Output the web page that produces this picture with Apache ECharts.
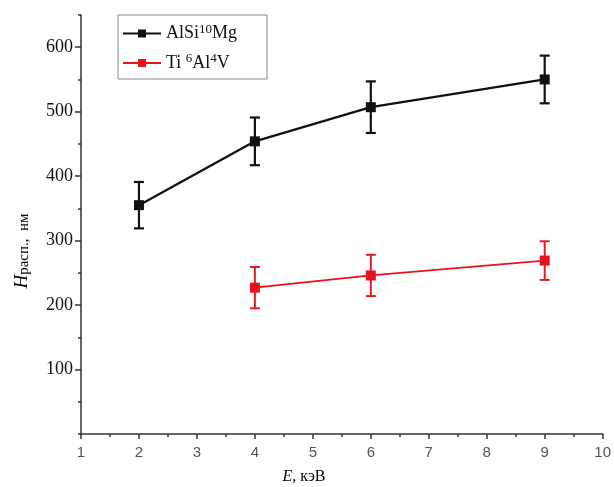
<!DOCTYPE html>
<html><head><meta charset="utf-8">
<script src="https://cdn.jsdelivr.net/npm/echarts@6/dist/echarts.min.js"></script>
<style>html,body{margin:0;padding:0;background:#fff}#c{width:614px;height:487px}</style>
</head><body><div id="c"></div>
<script>
const energyAl = [2, 4, 6, 9];
const hardAl = [355, 454, 507, 550];
const errAl = [36, 37, 40, 37];
const energyTi = [4, 6, 9];
const hardTi = [227, 246, 269];
const errTi = [32, 32, 30];
const yMajor = [100, 200, 300, 400, 500, 600];
const xTicks = [1, 2, 3, 4, 5, 6, 7, 8, 9, 10];

const BLACK = '#111111';
const RED = '#e8121c';
const serif = '"Liberation Serif", "DejaVu Serif", serif';

const chart = echarts.init(document.getElementById('c'));

function pts(xs, ys) { return xs.map((x, i) => [x, ys[i]]); }
function errData(xs, ys, es) { return xs.map((x, i) => [x, ys[i] - es[i], ys[i] + es[i]]); }

function errRender(color, lw) {
  return function (params, api) {
    const x = api.value(0);
    const lo = api.coord([x, api.value(1)]);
    const hi = api.coord([x, api.value(2)]);
    const w = 5;
    const st = { stroke: color, lineWidth: lw };
    return {
      type: 'group',
      children: [
        { type: 'line', shape: { x1: lo[0], y1: lo[1], x2: hi[0], y2: hi[1] }, style: st },
        { type: 'line', shape: { x1: lo[0] - w, y1: lo[1], x2: lo[0] + w, y2: lo[1] }, style: st },
        { type: 'line', shape: { x1: hi[0] - w, y1: hi[1], x2: hi[0] + w, y2: hi[1] }, style: st }
      ]
    };
  };
}

const legendRich = {
  a: { fontFamily: serif, fontSize: 18, color: '#111' },
  s: { fontFamily: serif, fontSize: 13, color: '#111', padding: [0, 0, 8, 0] }
};

chart.setOption({
  animation: false,
  grid: { left: 81, right: 11, top: 15, bottom: 53 },
  legend: {
    left: 118, top: 15,
    orient: 'vertical',
    data: ['AlSi10Mg', 'Ti6Al4V'],
    borderColor: '#888', borderWidth: 1,
    padding: [8, 30, 7, 4],
    itemGap: 10,
    itemWidth: 38, itemHeight: 10,
    formatter: function (name) {
      if (name === 'AlSi10Mg') return '{a|AlSi}{s|10}{a|Mg}';
      return '{a|Ti }{s|6}{a|Al}{s|4}{a|V}';
    },
    textStyle: { rich: legendRich }
  },
  xAxis: {
    type: 'value', min: 1, max: 10, interval: 1,
    axisLine: { lineStyle: { color: '#333', width: 1.5 } },
    axisTick: { inside: false, length: 5, lineStyle: { color: '#333', width: 1.5 } },
    minorTick: { show: true, splitNumber: 2, length: 3, lineStyle: { color: '#333', width: 1.5 } },
    splitLine: { show: false },
    minorSplitLine: { show: false },
    axisLabel: { fontFamily: '"Liberation Sans", Arial, sans-serif', fontSize: 15, color: '#555', margin: 11 }
  },
  yAxis: [{
    type: 'value', min: 0, max: 650, interval: 50,
    axisLine: { show: true, lineStyle: { color: '#333', width: 1.5 } },
    axisTick: { show: true, length: 3, lineStyle: { color: '#333', width: 1.5 } },
    splitLine: { show: false },
    axisLabel: {
      fontFamily: serif, fontSize: 18, color: '#111', margin: 8,
      formatter: function (v) { return yMajor.indexOf(v) >= 0 ? String(v) : ''; }
    }
  }, {
    type: 'value', min: 0, max: 650, position: 'left',
    axisLine: { show: false },
    axisTick: { show: true, length: 6, customValues: yMajor, lineStyle: { color: '#333', width: 1.5 } },
    axisLabel: { show: false },
    splitLine: { show: false }
  }],
  graphic: [
    {
      type: 'text', x: 22, y: 251, rotation: Math.PI / 2,
      style: {
        text: '{h|H}{p|расп.,  нм}',
        align: 'center', verticalAlign: 'middle',
        rich: {
          h: { fontFamily: serif, fontStyle: 'italic', fontSize: 19, color: '#111' },
          p: { fontFamily: serif, fontSize: 15, color: '#111', padding: [4, 0, 0, 0] }
        }
      }
    },
    {
      type: 'text', x: 304, y: 477,
      style: {
        text: '{e|E}{t|, кэВ}',
        align: 'center', verticalAlign: 'middle',
        rich: {
          e: { fontFamily: serif, fontStyle: 'italic', fontSize: 16, color: '#111' },
          t: { fontFamily: serif, fontSize: 16, color: '#111' }
        }
      }
    }
  ],
  series: [
    {
      name: 'AlSi10Mg', type: 'line', data: pts(energyAl, hardAl),
      symbol: 'rect', symbolSize: 10,
      lineStyle: { color: BLACK, width: 2.3 },
      itemStyle: { color: BLACK }, z: 3
    },
    {
      name: 'Ti6Al4V', type: 'line', data: pts(energyTi, hardTi),
      symbol: 'rect', symbolSize: 10,
      lineStyle: { color: RED, width: 1.7 },
      itemStyle: { color: RED }, z: 3
    },
    {
      name: 'errAl', type: 'custom', data: errData(energyAl, hardAl, errAl),
      renderItem: errRender(BLACK, 2.2), encode: { x: 0, y: [1, 2] }, z: 2
    },
    {
      name: 'errTi', type: 'custom', data: errData(energyTi, hardTi, errTi),
      renderItem: errRender(RED, 1.9), encode: { x: 0, y: [1, 2] }, z: 2
    }
  ]
});
</script></body></html>
